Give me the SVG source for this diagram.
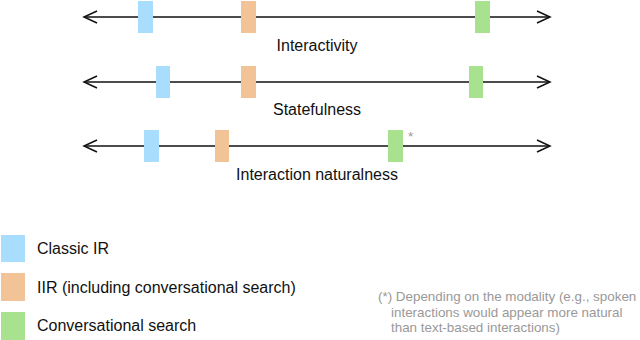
<svg xmlns="http://www.w3.org/2000/svg" width="640" height="340" viewBox="0 0 640 340">
<style>
.ax{stroke:#111;stroke-width:1.3;fill:none}
.ah{stroke:#111;stroke-width:1.5;fill:none}
.lbl{font-family:"Liberation Sans",Arial,sans-serif;font-size:16px;fill:#111}
.note{font-family:"Liberation Sans",Arial,sans-serif;font-size:13.4px;fill:#999}
.b{fill:#a9ddfe}
.o{fill:#f3c398}
.g{fill:#a9e28f}
</style>
<rect width="640" height="340" fill="#fff"/>
<g id="connectors">
<line class="ax" x1="84" y1="17" x2="550" y2="17"/>
<polyline class="ah" points="97,11 84,17 97,23"/>
<polyline class="ah" points="537,11 550,17 537,23"/>
<line class="ax" x1="84" y1="82" x2="550" y2="82"/>
<polyline class="ah" points="97,76 84,82 97,88"/>
<polyline class="ah" points="537,76 550,82 537,88"/>
<line class="ax" x1="84" y1="146" x2="550" y2="146"/>
<polyline class="ah" points="97,140 84,146 97,152"/>
<polyline class="ah" points="537,140 550,146 537,152"/>
</g>
<g id="interactivity">
<rect class="b" x="138" y="1" width="15" height="32"/>
<rect class="o" x="241" y="1" width="15" height="32"/>
<rect class="g" x="475" y="1" width="15" height="32"/>
<text class="lbl" x="317" y="51" text-anchor="middle">Interactivity</text>
</g>
<g id="statefulness">
<rect class="b" x="156" y="66" width="14" height="32"/>
<rect class="o" x="241" y="66" width="15" height="32"/>
<rect class="g" x="469" y="66" width="14" height="32"/>
<text class="lbl" x="317" y="115" text-anchor="middle">Statefulness</text>
</g>
<g id="naturalness">
<rect class="b" x="144" y="130" width="15" height="32"/>
<rect class="o" x="215" y="130" width="14" height="32"/>
<rect class="g" x="388" y="130" width="15" height="32"/>
<text class="note" x="408" y="141" font-size="11">*</text>
<text class="lbl" x="317" y="180" text-anchor="middle">Interaction naturalness</text>
</g>
<g id="legend">
<rect class="b" x="1" y="235" width="24" height="27"/>
<text class="lbl" x="37" y="254">Classic IR</text>
<rect class="o" x="1" y="273" width="24" height="28"/>
<text class="lbl" x="37" y="293">IIR (including conversational search)</text>
<rect class="g" x="1" y="312" width="24" height="28"/>
<text class="lbl" x="37" y="331">Conversational search</text>
</g>
<g id="footnote">
<text class="note" x="378" y="301">(*) Depending on the modality (e.g., spoken</text>
<text class="note" x="391" y="317">interactions would appear more natural</text>
<text class="note" x="391" y="332">than text-based interactions)</text>
</g>
</svg>
